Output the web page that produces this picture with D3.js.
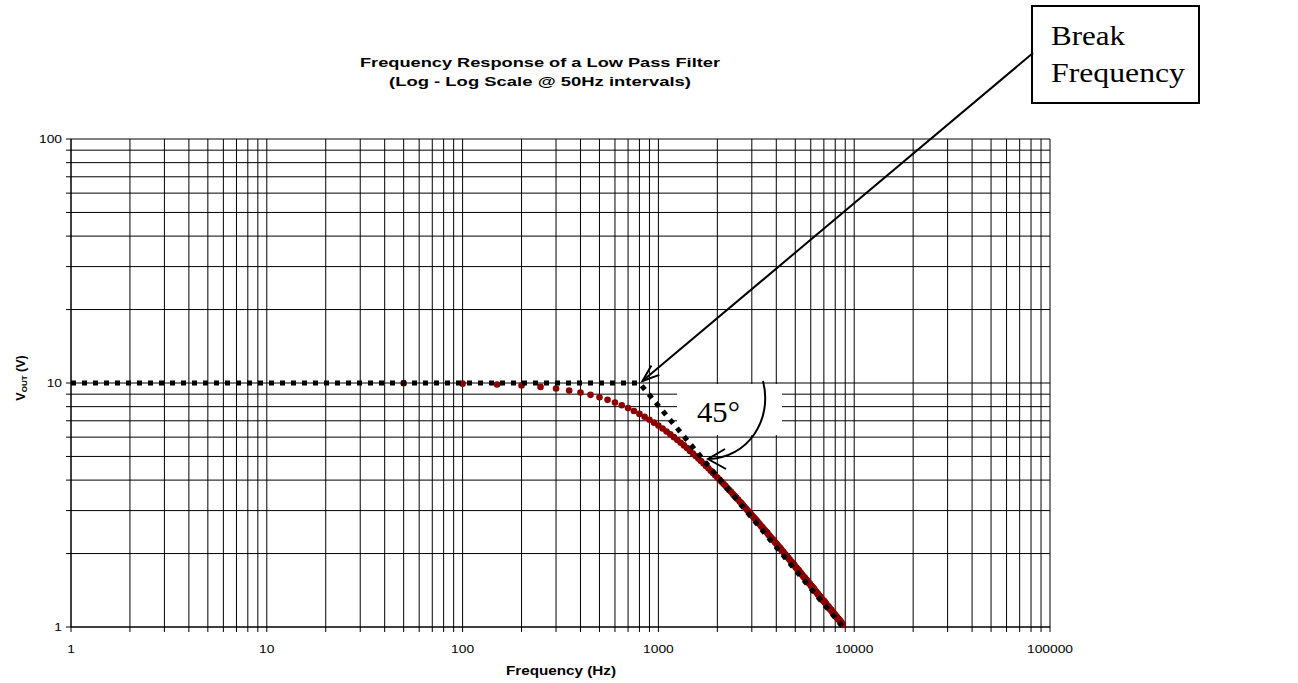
<!DOCTYPE html>
<html><head><meta charset="utf-8">
<script src="https://cdn.jsdelivr.net/npm/d3@7"></script>
<style>body{margin:0;background:#fff}svg{display:block}</style>
</head><body><svg id="c" width="1298" height="683"></svg>
<script>
// ---- data ----
const freq = [
  50,100,150,200,250,300,350,400,450,500,550,600,650,700,750,800,850,900,950,1000,
  1050,1100,1150,1200,1250,1300,1350,1400,1450,1500,1550,1600,1650,1700,1750,1800,1850,1900,1950,2000,
  2050,2100,2150,2200,2250,2300,2350,2400,2450,2500,2550,2600,2650,2700,2750,2800,2850,2900,2950,3000,
  3050,3100,3150,3200,3250,3300,3350,3400,3450,3500,3550,3600,3650,3700,3750,3800,3850,3900,3950,4000,
  4050,4100,4150,4200,4250,4300,4350,4400,4450,4500,4550,4600,4650,4700,4750,4800,4850,4900,4950,5000,
  5050,5100,5150,5200,5250,5300,5350,5400,5450,5500,5550,5600,5650,5700,5750,5800,5850,5900,5950,6000,
  6050,6100,6150,6200,6250,6300,6350,6400,6450,6500,6550,6600,6650,6700,6750,6800,6850,6900,6950,7000,
  7050,7100,7150,7200,7250,7300,7350,7400,7450,7500,7550,7600,7650,7700,7750,7800,7850,7900,7950,8000,
  8050,8100,8150,8200,8250,8300,8350,8400,8450,8500,8550,8600,8650,8700,8750
];
const vout = [
  9.98,9.94,9.86,9.76,9.64,9.49,9.32,9.14,8.94,8.74,8.53,8.32,8.11,7.89,7.68,7.47,7.27,7.07,6.88,6.69,
  6.51,6.33,6.16,6.00,5.84,5.69,5.55,5.41,5.27,5.14,5.02,4.90,4.79,4.68,4.57,4.47,4.37,4.28,4.19,4.10,
  4.02,3.94,3.86,3.79,3.71,3.64,3.58,3.51,3.45,3.39,3.33,3.27,3.22,3.16,3.11,3.06,3.01,2.96,2.92,2.87,
  2.83,2.79,2.75,2.71,2.67,2.63,2.59,2.56,2.52,2.49,2.46,2.43,2.39,2.36,2.33,2.30,2.28,2.25,2.22,2.20,
  2.17,2.14,2.12,2.10,2.07,2.05,2.03,2.00,1.98,1.96,1.94,1.92,1.90,1.88,1.86,1.84,1.82,1.81,1.79,1.77,
  1.75,1.74,1.72,1.71,1.69,1.67,1.66,1.64,1.63,1.61,1.60,1.59,1.57,1.56,1.55,1.53,1.52,1.51,1.50,1.48,
  1.47,1.46,1.45,1.44,1.43,1.41,1.40,1.39,1.38,1.37,1.36,1.35,1.34,1.33,1.32,1.31,1.30,1.29,1.28,1.28,
  1.27,1.26,1.25,1.24,1.23,1.22,1.22,1.21,1.20,1.19,1.18,1.18,1.17,1.16,1.15,1.15,1.14,1.13,1.12,1.12,
  1.11,1.10,1.10,1.09,1.08,1.08,1.07,1.07,1.06,1.05,1.05,1.04,1.03,1.03,1.02
];
const asymFreq = [1, 800, 8750];
const asymVout = [10, 10, 1];
const xTickValues = [1, 10, 100, 1000, 10000, 100000];
const xTickLabels = ["1", "10", "100", "1000", "10000", "100000"];
const yTickValues = [1, 10, 100];
const yTickLabels = ["1", "10", "100"];
const titleLines = ["Frequency Response of a Low Pass Filter", "(Log - Log Scale @ 50Hz intervals)"];
const xTitle = "Frequency (Hz)";
const annoBreak = ["Break", "Frequency"];
const annoAngle = "45°";

// ---- scales ----
const svg = d3.select("#c");
const L = 71, R = 1050, T = 139, B = 627;
const x = d3.scaleLog().domain([1, 100000]).range([L, R]);
const y = d3.scaleLog().domain([1, 100]).range([B, T]);
const SANS = "'Liberation Sans', Arial, sans-serif";
const SERIF = "'Liberation Serif', 'Times New Roman', serif";

function stretch(sel, f) {
  sel.each(function () {
    const l = this.getComputedTextLength();
    d3.select(this).attr("textLength", l * f).attr("lengthAdjust", "spacingAndGlyphs");
  });
}

// gridlines (major + minor)
const xGrid = x.ticks(50);
const yGrid = y.ticks(20);
const g = svg.append("g");
g.selectAll("line.vx").data(xGrid).join("line")
  .attr("x1", d => x(d)).attr("x2", d => x(d)).attr("y1", T).attr("y2", B + 5)
  .attr("stroke", "#000").attr("stroke-width", 1);
g.selectAll("line.hy").data(yGrid).join("line")
  .attr("x1", L - 5).attr("x2", R).attr("y1", d => y(d)).attr("y2", d => y(d))
  .attr("stroke", "#000").attr("stroke-width", 1);

// axes lines
svg.append("line").attr("x1", L).attr("x2", L).attr("y1", T).attr("y2", B).attr("stroke", "#000");
svg.append("line").attr("x1", L).attr("x2", R).attr("y1", B).attr("y2", B).attr("stroke", "#000");

// tick labels
const xl = svg.append("g").selectAll("text").data(xTickValues).join("text")
  .attr("x", d => x(d)).attr("y", 653).attr("text-anchor", "middle")
  .attr("font-family", SANS).attr("font-size", 11.5).attr("fill", "#000")
  .text((d, i) => xTickLabels[i]);
stretch(xl, 1.2);
const yl = svg.append("g").selectAll("text").data(yTickValues).join("text")
  .attr("x", 62).attr("y", d => y(d) + 4).attr("text-anchor", "end")
  .attr("font-family", SANS).attr("font-size", 11.5).attr("fill", "#000")
  .text((d, i) => yTickLabels[i]);
stretch(yl, 1.2);

// titles
svg.append("text").attr("x", 540).attr("y", 67).attr("text-anchor", "middle")
  .attr("font-family", SANS).attr("font-weight", "bold").attr("font-size", 13)
  .attr("textLength", 360).attr("lengthAdjust", "spacingAndGlyphs").text(titleLines[0]);
svg.append("text").attr("x", 540).attr("y", 86).attr("text-anchor", "middle")
  .attr("font-family", SANS).attr("font-weight", "bold").attr("font-size", 13)
  .attr("textLength", 302).attr("lengthAdjust", "spacingAndGlyphs").text(titleLines[1]);
svg.append("text").attr("x", 561).attr("y", 675).attr("text-anchor", "middle")
  .attr("font-family", SANS).attr("font-weight", "bold").attr("font-size", 12)
  .attr("textLength", 110).attr("lengthAdjust", "spacingAndGlyphs").text(xTitle);
const yt = svg.append("text").attr("transform", "translate(25,378) rotate(-90)")
  .attr("text-anchor", "middle").attr("font-family", SANS).attr("font-weight", "bold").attr("font-size", 12.5);
yt.append("tspan").text("V");
yt.append("tspan").attr("font-size", 8).attr("dy", 2).text("OUT");
yt.append("tspan").attr("dy", -2).text(" (V)");

// 45° annotation box (white, covers gridlines)
svg.append("rect").attr("x", 677).attr("y", 384).attr("width", 105).attr("height", 51).attr("fill", "#fff");
svg.append("text").attr("x", 697).attr("y", 422).attr("font-family", SERIF).attr("font-size", 30)
  .attr("textLength", 43).attr("lengthAdjust", "spacingAndGlyphs").text(annoAngle);

// red data points
svg.append("g").selectAll("circle").data(freq).join("circle")
  .attr("cx", d => x(d)).attr("cy", (d, i) => y(vout[i])).attr("r", 3.3)
  .attr("fill", "#8B0000");

// black asymptote (thick square-dot line)
const asym = asymFreq.map((f, i) => [f, asymVout[i]]);
svg.append("path").datum(asym)
  .attr("d", d3.line().x(d => x(d[0])).y(d => y(d[1])))
  .attr("fill", "none").attr("stroke", "#000").attr("stroke-width", 5)
  .attr("stroke-dasharray", "5,6");

// curved 45° arrow
svg.append("path").attr("d", "M763,381 C773,420 748,458 708,459")
  .attr("fill", "none").attr("stroke", "#000").attr("stroke-width", 2);
svg.append("path").attr("d", "M725,449 L708,459 L726,469")
  .attr("fill", "none").attr("stroke", "#000").attr("stroke-width", 2);

// Break frequency box + arrow
svg.append("rect").attr("x", 1032).attr("y", 6).attr("width", 167).attr("height", 97)
  .attr("fill", "#fff").attr("stroke", "#000").attr("stroke-width", 2);
svg.append("text").attr("x", 1051).attr("y", 45).attr("font-family", SERIF).attr("font-size", 27)
  .attr("textLength", 74).attr("lengthAdjust", "spacingAndGlyphs").text(annoBreak[0]);
svg.append("text").attr("x", 1051).attr("y", 82).attr("font-family", SERIF).attr("font-size", 27)
  .attr("textLength", 134).attr("lengthAdjust", "spacingAndGlyphs").text(annoBreak[1]);
const tip = [x(800) + 3, y(10) - 2], tail = [1033, 53];
svg.append("line").attr("x1", tail[0]).attr("y1", tail[1]).attr("x2", tip[0]).attr("y2", tip[1])
  .attr("stroke", "#000").attr("stroke-width", 2);
const ang = Math.atan2(tail[1] - tip[1], tail[0] - tip[0]);
const hl = 18, ha = 0.35;
svg.append("path").attr("d",
  `M${tip[0] + hl * Math.cos(ang - ha)},${tip[1] + hl * Math.sin(ang - ha)} L${tip[0]},${tip[1]} L${tip[0] + hl * Math.cos(ang + ha)},${tip[1] + hl * Math.sin(ang + ha)}`)
  .attr("fill", "none").attr("stroke", "#000").attr("stroke-width", 2);
</script></body></html>
